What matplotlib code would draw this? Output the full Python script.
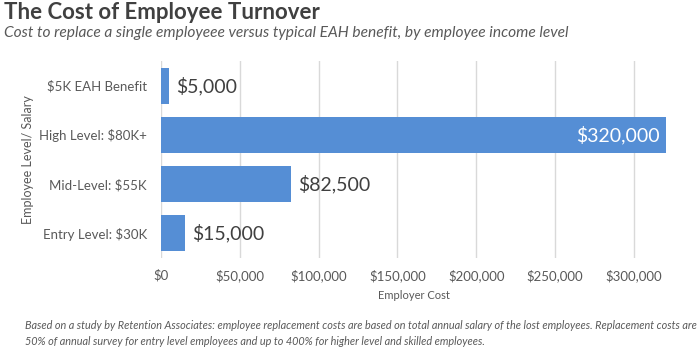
import matplotlib.pyplot as plt
from matplotlib.ticker import FuncFormatter

# data, bottom to top
categories = ['Entry Level: $30K', 'Mid-Level: $55K', 'High Level: $80K+', '$5K EAH Benefit']
costs = [15000, 82500, 320000, 5000]
ticks = [0, 50000, 100000, 150000, 200000, 250000, 300000]

plt.rcParams['font.family'] = ['Lato', 'DejaVu Sans']

fig = plt.figure(figsize=(7, 3.51), dpi=100)
ax = fig.add_axes([0.23, 0.265, 0.723, 0.561])

bar_color = '#558ed5'
ax.barh(range(len(categories)), costs, height=0.73, color=bar_color, zorder=3)

for i, v in enumerate(costs):
    label = f'${v:,.0f}'
    if v > 250000:
        ax.text(v - 3500, i, label, va='center', ha='right', color='white', fontsize=14)
    else:
        ax.text(v + 4500, i, label, va='center', ha='left', color='#404040', fontsize=14)

ax.set_xlim(0, 321000)
ax.set_ylim(-0.5, 3.5)
ax.set_xticks(ticks)
ax.xaxis.set_major_formatter(FuncFormatter(lambda x, p: f'${x:,.0f}'))
ax.set_yticks(range(len(categories)))
ax.set_yticklabels(categories)
ax.tick_params(axis='both', length=0, colors='#595959', labelsize=9.5)
ax.tick_params(axis='y', pad=10)
ax.tick_params(axis='x', pad=8)
ax.grid(axis='x', color='#d9d9d9', linewidth=1, zorder=0)
for s in ax.spines.values():
    s.set_visible(False)

ax.set_xlabel('Employer Cost', color='#595959', fontsize=8, labelpad=6)
fig.text(0.04, 0.545, 'Employee Level/ Salary', rotation=90, va='center', ha='center',
         color='#595959', fontsize=9)

fig.text(0.006, 0.965, 'The Cost of Employee Turnover', fontsize=16, fontweight='bold',
         color='#404040', va='center')
fig.text(0.006, 0.905, 'Cost to replace a single employeee versus typical EAH benefit, by employee income level',
         fontsize=11.2, style='italic', color='#595959', va='center')

fig.text(0.036, 0.072, 'Based on a study by Retention Associates: employee replacement costs are based on total annual salary '
         'of the lost employees. Replacement costs are', fontsize=7.8, style='italic', color='#595959', va='center')
fig.text(0.036, 0.028, '50% of annual survey for entry level employees and up to 400% for higher level and skilled employees.',
         fontsize=7.8, style='italic', color='#595959', va='center')

fig.savefig('out.png', dpi=100)
